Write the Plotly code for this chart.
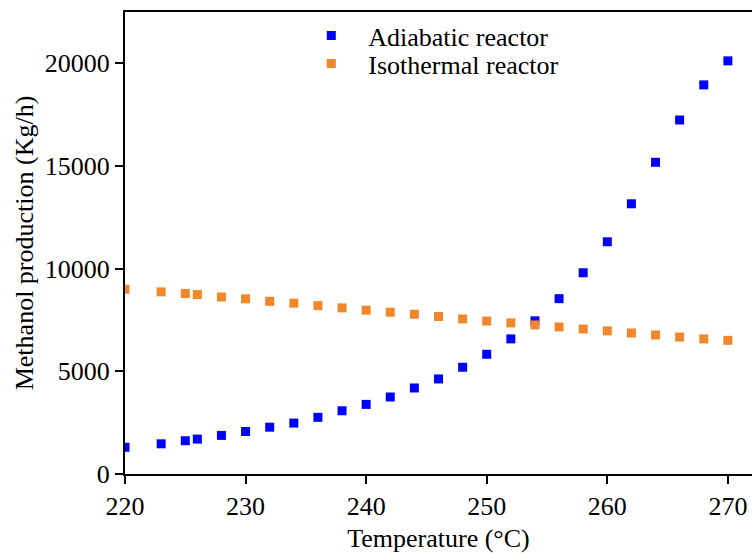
import plotly.graph_objects as go

# temperature (°C)
temps = [220, 223, 225, 226, 228, 230, 232, 234, 236, 238, 240, 242, 244, 246,
         248, 250, 252, 254, 256, 258, 260, 262, 264, 266, 268, 270]

# methanol production (Kg/h)
adiabatic = [1300, 1470, 1620, 1700, 1880, 2070, 2280, 2480, 2760, 3080, 3390,
             3750, 4190, 4630, 5200, 5830, 6580, 7460, 8540, 9800, 11310, 13160,
             15180, 17240, 18950, 20120]
isothermal = [9000, 8870, 8790, 8740, 8620, 8530, 8410, 8320, 8200, 8090, 7980,
              7880, 7780, 7670, 7550, 7450, 7360, 7260, 7160, 7060, 6970, 6870,
              6770, 6670, 6580, 6510]

FONT = "Liberation Serif"
FS = 26

fig = go.Figure()
fig.add_trace(go.Scatter(
    x=temps, y=adiabatic, mode="markers", name="Adiabatic reactor",
    marker=dict(symbol="square", size=9, color="#0000FF"), legend="legend",
))
fig.add_trace(go.Scatter(
    x=temps, y=isothermal, mode="markers", name="Isothermal reactor",
    marker=dict(symbol="square", size=9, color="#F0872B"), legend="legend2",
))

axis_style = dict(
    showgrid=False, zeroline=False, showline=True, linecolor="black", linewidth=2,
    ticks="outside", ticklen=8, tickwidth=2, tickcolor="black", tickformat="d",
    tickfont=dict(family=FONT, size=FS, color="black"),
)

fig.update_xaxes(
    range=[220, 272], tickvals=[220, 230, 240, 250, 260, 270], mirror=True,
    title=dict(text="Temperature (°C)", font=dict(family=FONT, size=FS, color="black"), standoff=14),
    **axis_style,
)
fig.update_yaxes(
    range=[0, 22500], tickvals=[0, 5000, 10000, 15000, 20000],
    title=dict(text="Methanol production (Kg/h)", font=dict(family=FONT, size=FS, color="black"), standoff=4),
    **axis_style,
)

leg = dict(x=0.27, xanchor="left", yanchor="top", bgcolor="rgba(0,0,0,0)",
           itemwidth=64, font=dict(family=FONT, size=FS, color="black"))

fig.update_layout(
    width=752, height=553,
    margin=dict(l=125, r=0, t=12, b=79),
    plot_bgcolor="white", paper_bgcolor="white",
    font=dict(family=FONT, size=FS, color="black"),
    showlegend=True,
    legend=dict(y=1.0, **leg),
    legend2=dict(y=0.939, **leg),
)

# drop the default 8px page margin so the figure fills the window exactly
fig.write_html("out.html", config={"displayModeBar": False},
               post_script="document.body.style.margin='0';")
